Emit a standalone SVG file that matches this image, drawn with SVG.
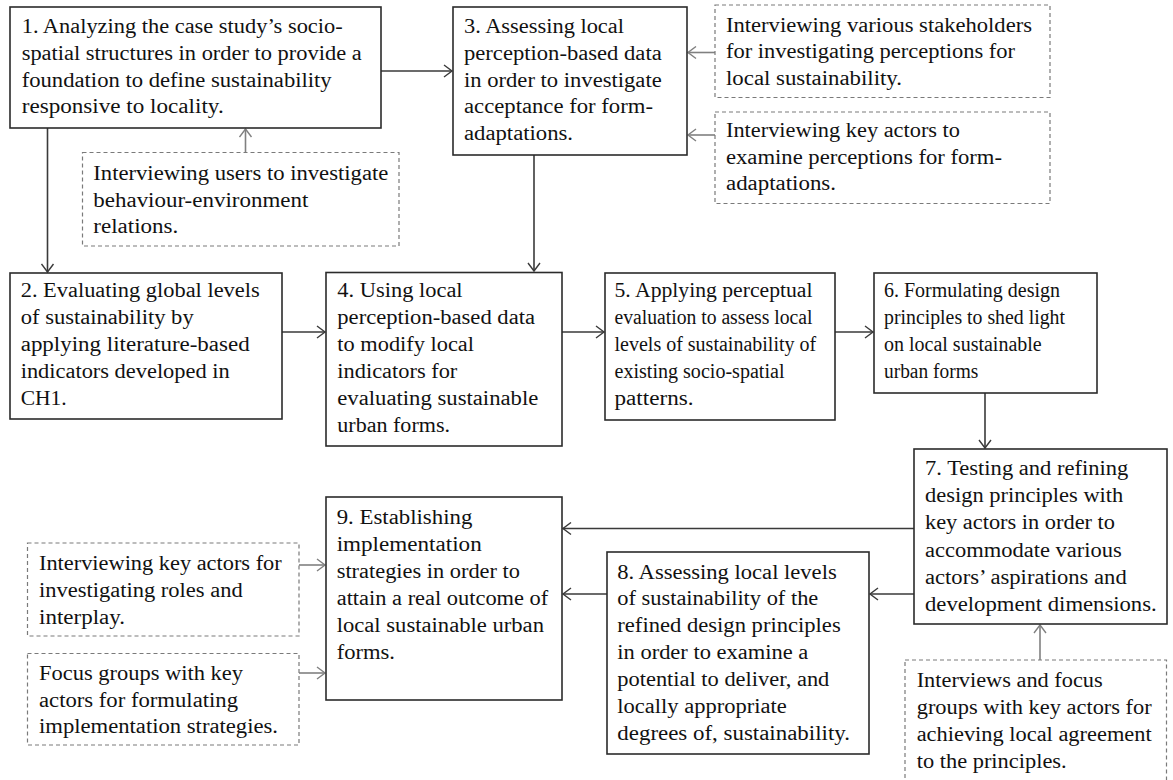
<svg xmlns="http://www.w3.org/2000/svg" width="1173" height="780" viewBox="0 0 1173 780">
<style>
.box{fill:#fff;stroke:#2b2b2b;stroke-width:1.6}
.dbox{fill:#fff;stroke:#7a7a7a;stroke-width:1.2;stroke-dasharray:4 3}
.t{font-family:"Liberation Serif","Times New Roman",serif;font-size:20px;fill:#111}
.c{fill:none;stroke:#3a3a3a;stroke-width:1.6}
.cg{fill:none;stroke:#808080;stroke-width:1.6}
</style>
<defs>
<marker id="ad" markerUnits="userSpaceOnUse" markerWidth="12" markerHeight="14" refX="9" refY="7" orient="auto">
<path d="M1,1 L9,7 L1,13" fill="none" stroke="#3a3a3a" stroke-width="1.4"/>
</marker>
<marker id="ag" markerUnits="userSpaceOnUse" markerWidth="12" markerHeight="14" refX="9" refY="7" orient="auto">
<path d="M1,1 L9,7 L1,13" fill="none" stroke="#808080" stroke-width="1.4"/>
</marker>
</defs>
<rect width="1173" height="780" fill="#fff"/>
<g id="connectors">
<line class="c" x1="381" y1="71" x2="452" y2="71" marker-end="url(#ad)"/>
<line class="c" x1="47.5" y1="128" x2="47.5" y2="272" marker-end="url(#ad)"/>
<line class="cg" x1="245.5" y1="152" x2="245.5" y2="129" marker-end="url(#ag)"/>
<line class="cg" x1="715" y1="52.5" x2="688" y2="52.5" marker-end="url(#ag)"/>
<line class="cg" x1="715" y1="135" x2="688" y2="135" marker-end="url(#ag)"/>
<line class="c" x1="534" y1="155" x2="534" y2="271" marker-end="url(#ad)"/>
<line class="c" x1="282" y1="332" x2="325" y2="332" marker-end="url(#ad)"/>
<line class="c" x1="562" y1="332" x2="604" y2="332" marker-end="url(#ad)"/>
<line class="c" x1="835" y1="332" x2="873" y2="332" marker-end="url(#ad)"/>
<line class="c" x1="985" y1="393" x2="985" y2="448" marker-end="url(#ad)"/>
<line class="c" x1="914" y1="528.5" x2="563" y2="528.5" marker-end="url(#ad)"/>
<line class="c" x1="914" y1="594" x2="870" y2="594" marker-end="url(#ad)"/>
<line class="c" x1="607" y1="594" x2="563" y2="594" marker-end="url(#ad)"/>
<line class="cg" x1="299" y1="565" x2="325" y2="565" marker-end="url(#ag)"/>
<line class="cg" x1="299" y1="673" x2="325" y2="673" marker-end="url(#ag)"/>
<line class="cg" x1="1040" y1="660" x2="1040" y2="625" marker-end="url(#ag)"/>
</g>
<g id="n1">
<rect class="box" x="10" y="7" width="371" height="121"/>
<text class="t" x="21.7" y="33.3" textLength="321" lengthAdjust="spacingAndGlyphs">1. Analyzing the case study’s socio-</text>
<text class="t" x="21.7" y="60" textLength="340" lengthAdjust="spacingAndGlyphs">spatial structures in order to provide a</text>
<text class="t" x="21.7" y="86.7" textLength="310" lengthAdjust="spacingAndGlyphs">foundation to define sustainability</text>
<text class="t" x="21.7" y="113.3" textLength="202" lengthAdjust="spacingAndGlyphs">responsive to locality.</text>
</g>
<g id="d1">
<rect class="dbox" x="82.5" y="152.5" width="316.5" height="93.5"/>
<text class="t" x="93.3" y="180" textLength="295" lengthAdjust="spacingAndGlyphs">Interviewing users to investigate</text>
<text class="t" x="93.3" y="206.5" textLength="215" lengthAdjust="spacingAndGlyphs">behaviour-environment</text>
<text class="t" x="93.3" y="233" textLength="85" lengthAdjust="spacingAndGlyphs">relations.</text>
</g>
<g id="n3">
<rect class="box" x="453" y="7" width="234" height="148"/>
<text class="t" x="464" y="33.3" textLength="160" lengthAdjust="spacingAndGlyphs">3. Assessing local</text>
<text class="t" x="464" y="60" textLength="197.7" lengthAdjust="spacingAndGlyphs">perception-based data</text>
<text class="t" x="464" y="86.7" textLength="197.7" lengthAdjust="spacingAndGlyphs">in order to investigate</text>
<text class="t" x="464" y="113.3" textLength="189" lengthAdjust="spacingAndGlyphs">acceptance for form-</text>
<text class="t" x="464" y="140" textLength="109" lengthAdjust="spacingAndGlyphs">adaptations.</text>
</g>
<g id="d2">
<rect class="dbox" x="715" y="5" width="335" height="92.5"/>
<text class="t" x="726" y="31.7" textLength="306" lengthAdjust="spacingAndGlyphs">Interviewing various stakeholders</text>
<text class="t" x="726" y="58.3" textLength="289" lengthAdjust="spacingAndGlyphs">for investigating perceptions for</text>
<text class="t" x="726" y="85" textLength="176" lengthAdjust="spacingAndGlyphs">local sustainability.</text>
</g>
<g id="d3">
<rect class="dbox" x="715" y="112" width="335" height="91.5"/>
<text class="t" x="726" y="137" textLength="234" lengthAdjust="spacingAndGlyphs">Interviewing key actors to</text>
<text class="t" x="726" y="163.5" textLength="276" lengthAdjust="spacingAndGlyphs">examine perceptions for form-</text>
<text class="t" x="726" y="190" textLength="110" lengthAdjust="spacingAndGlyphs">adaptations.</text>
</g>
<g id="n2">
<rect class="box" x="10" y="273" width="272" height="146"/>
<text class="t" x="20.7" y="297" textLength="239" lengthAdjust="spacingAndGlyphs">2. Evaluating global levels</text>
<text class="t" x="20.7" y="324" textLength="173" lengthAdjust="spacingAndGlyphs">of sustainability by</text>
<text class="t" x="20.7" y="351" textLength="229" lengthAdjust="spacingAndGlyphs">applying literature-based</text>
<text class="t" x="20.7" y="378" textLength="209" lengthAdjust="spacingAndGlyphs">indicators developed in</text>
<text class="t" x="20.7" y="405" textLength="46" lengthAdjust="spacingAndGlyphs">CH1.</text>
</g>
<g id="n4">
<rect class="box" x="326" y="272.5" width="236" height="173.5"/>
<text class="t" x="337.3" y="297" textLength="125.3" lengthAdjust="spacingAndGlyphs">4. Using local</text>
<text class="t" x="337.3" y="324" textLength="197.7" lengthAdjust="spacingAndGlyphs">perception-based data</text>
<text class="t" x="337.3" y="351" textLength="136.7" lengthAdjust="spacingAndGlyphs">to modify local</text>
<text class="t" x="337.3" y="378" textLength="120" lengthAdjust="spacingAndGlyphs">indicators for</text>
<text class="t" x="337.3" y="405" textLength="201" lengthAdjust="spacingAndGlyphs">evaluating sustainable</text>
<text class="t" x="337.3" y="432" textLength="112.7" lengthAdjust="spacingAndGlyphs">urban forms.</text>
</g>
<g id="n5">
<rect class="box" x="605" y="273" width="230" height="147"/>
<text class="t" x="614.5" y="297" textLength="198" lengthAdjust="spacingAndGlyphs">5. Applying perceptual</text>
<text class="t" x="614.5" y="324" textLength="198" lengthAdjust="spacingAndGlyphs">evaluation to assess local</text>
<text class="t" x="614.5" y="351" textLength="201.7" lengthAdjust="spacingAndGlyphs">levels of sustainability of</text>
<text class="t" x="614.5" y="378" textLength="170" lengthAdjust="spacingAndGlyphs">existing socio-spatial</text>
<text class="t" x="614.5" y="405" textLength="79" lengthAdjust="spacingAndGlyphs">patterns.</text>
</g>
<g id="n6">
<rect class="box" x="874" y="273" width="223" height="120"/>
<text class="t" x="884" y="297" textLength="176" lengthAdjust="spacingAndGlyphs">6. Formulating design</text>
<text class="t" x="884" y="324" textLength="181" lengthAdjust="spacingAndGlyphs">principles to shed light</text>
<text class="t" x="884" y="351" textLength="157.7" lengthAdjust="spacingAndGlyphs">on local sustainable</text>
<text class="t" x="884" y="378" textLength="94.3" lengthAdjust="spacingAndGlyphs">urban forms</text>
</g>
<g id="n7">
<rect class="box" x="914" y="449" width="253" height="175"/>
<text class="t" x="925" y="475" textLength="203.3" lengthAdjust="spacingAndGlyphs">7. Testing and refining</text>
<text class="t" x="925" y="502.2" textLength="198.3" lengthAdjust="spacingAndGlyphs">design principles with</text>
<text class="t" x="925" y="529.4" textLength="190" lengthAdjust="spacingAndGlyphs">key actors in order to</text>
<text class="t" x="925" y="556.6" textLength="196.7" lengthAdjust="spacingAndGlyphs">accommodate various</text>
<text class="t" x="925" y="583.8" textLength="201.7" lengthAdjust="spacingAndGlyphs">actors’ aspirations and</text>
<text class="t" x="925" y="611" textLength="231.7" lengthAdjust="spacingAndGlyphs">development dimensions.</text>
</g>
<g id="n9">
<rect class="box" x="326" y="497" width="236" height="203"/>
<text class="t" x="336.7" y="523.5" textLength="135.6" lengthAdjust="spacingAndGlyphs">9. Establishing</text>
<text class="t" x="336.7" y="550.5" textLength="145" lengthAdjust="spacingAndGlyphs">implementation</text>
<text class="t" x="336.7" y="577.5" textLength="183.3" lengthAdjust="spacingAndGlyphs">strategies in order to</text>
<text class="t" x="336.7" y="604.5" textLength="211.6" lengthAdjust="spacingAndGlyphs">attain a real outcome of</text>
<text class="t" x="336.7" y="631.5" textLength="207.3" lengthAdjust="spacingAndGlyphs">local sustainable urban</text>
<text class="t" x="336.7" y="658.5" textLength="58.3" lengthAdjust="spacingAndGlyphs">forms.</text>
</g>
<g id="n8">
<rect class="box" x="607" y="552" width="262" height="202"/>
<text class="t" x="617.3" y="578.5" textLength="219.4" lengthAdjust="spacingAndGlyphs">8. Assessing local levels</text>
<text class="t" x="617.3" y="605.4" textLength="201" lengthAdjust="spacingAndGlyphs">of sustainability of the</text>
<text class="t" x="617.3" y="632.3" textLength="223.4" lengthAdjust="spacingAndGlyphs">refined design principles</text>
<text class="t" x="617.3" y="659.2" textLength="191" lengthAdjust="spacingAndGlyphs">in order to examine a</text>
<text class="t" x="617.3" y="686.1" textLength="212" lengthAdjust="spacingAndGlyphs">potential to deliver, and</text>
<text class="t" x="617.3" y="713" textLength="169.4" lengthAdjust="spacingAndGlyphs">locally appropriate</text>
<text class="t" x="617.3" y="739.9" textLength="232.7" lengthAdjust="spacingAndGlyphs">degrees of, sustainability.</text>
</g>
<g id="d4">
<rect class="dbox" x="27.5" y="543" width="271.5" height="93"/>
<text class="t" x="39" y="570" textLength="242.7" lengthAdjust="spacingAndGlyphs">Interviewing key actors for</text>
<text class="t" x="39" y="597" textLength="203.7" lengthAdjust="spacingAndGlyphs">investigating roles and</text>
<text class="t" x="39" y="624" textLength="86" lengthAdjust="spacingAndGlyphs">interplay.</text>
</g>
<g id="d5">
<rect class="dbox" x="27.5" y="653.5" width="271.5" height="91.5"/>
<text class="t" x="39" y="680" textLength="204" lengthAdjust="spacingAndGlyphs">Focus groups with key</text>
<text class="t" x="39" y="706.7" textLength="199" lengthAdjust="spacingAndGlyphs">actors for formulating</text>
<text class="t" x="39" y="733.4" textLength="239" lengthAdjust="spacingAndGlyphs">implementation strategies.</text>
</g>
<g id="d6">
<rect class="dbox" x="905" y="660" width="261.5" height="130"/>
<text class="t" x="916.7" y="687.3" textLength="186" lengthAdjust="spacingAndGlyphs">Interviews and focus</text>
<text class="t" x="916.7" y="714.3" textLength="235" lengthAdjust="spacingAndGlyphs">groups with key actors for</text>
<text class="t" x="916.7" y="741.3" textLength="235" lengthAdjust="spacingAndGlyphs">achieving local agreement</text>
<text class="t" x="916.7" y="768.3" textLength="150" lengthAdjust="spacingAndGlyphs">to the principles.</text>
</g>
</svg>
